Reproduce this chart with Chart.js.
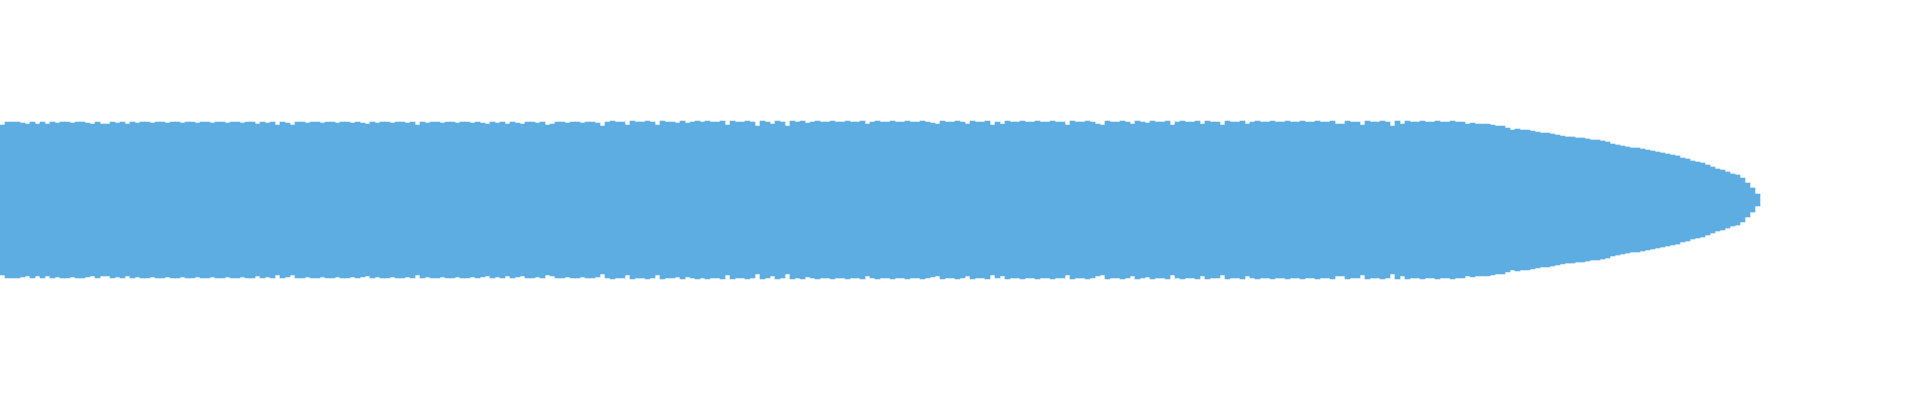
<!DOCTYPE html>
<html>
<head>
<meta charset="utf-8">
<script src="https://cdn.jsdelivr.net/npm/chart.js@4/dist/chart.umd.min.js"></script>
<style>
  html, body { margin: 0; padding: 0; background: #ffffff; }
  #wrap { position: relative; width: 1920px; height: 400px; }
</style>
</head>
<body>
<div id="wrap"><canvas id="wave"></canvas></div>
<script>
// waveform peaks in 5px columns (half-height around the middle line)
const SLOT_COUNT = 384;
const AMPLITUDE = [
  75, 78, 78, 78, 77, 76, 78, 76, 78, 76, 78, 77, 78, 78, 77, 78, 78, 77, 76, 78,
  76, 76, 78, 77, 78, 76, 78, 77, 78, 78, 77, 78, 78, 77, 78, 78, 77, 78, 78, 77,
  78, 78, 77, 78, 78, 77, 78, 78, 77, 78, 78, 76, 78, 77, 78, 75, 78, 77, 75, 78,
  78, 77, 78, 78, 77, 78, 78, 77, 78, 78, 77, 78, 77, 76, 78, 77, 78, 78, 77, 78,
  78, 77, 78, 75, 78, 77, 78, 78, 77, 78, 78, 77, 78, 78, 77, 78, 77, 76, 78, 77,
  78, 76, 78, 77, 76, 78, 78, 77, 78, 75, 76, 78, 78, 77, 78, 78, 77, 78, 78, 77,
  74, 78, 79, 78, 78, 75, 79, 78, 78, 79, 78, 75, 79, 78, 78, 77, 79, 77, 78, 79,
  78, 79, 78, 78, 79, 75, 79, 78, 78, 79, 78, 74, 79, 78, 76, 79, 78, 74, 79, 78,
  79, 77, 78, 79, 78, 78, 79, 78, 78, 79, 78, 78, 79, 76, 78, 79, 78, 78, 79, 78,
  78, 79, 78, 78, 79, 78, 77, 76, 79, 78, 78, 79, 78, 76, 79, 78, 78, 79, 75, 78,
  76, 79, 78, 78, 79, 78, 78, 79, 78, 78, 79, 78, 78, 75, 79, 78, 78, 79, 78, 76,
  75, 79, 78, 78, 79, 78, 76, 79, 78, 77, 79, 78, 78, 79, 75, 78, 79, 78, 78, 79,
  76, 79, 78, 78, 75, 79, 78, 78, 79, 76, 78, 79, 78, 78, 79, 78, 78, 79, 78, 78,
  79, 78, 78, 79, 78, 78, 79, 76, 76, 79, 78, 78, 75, 79, 78, 78, 79, 78, 74, 79,
  76, 79, 78, 78, 79, 78, 78, 79, 78, 78, 79, 78, 78, 76, 77, 76, 76, 76, 75, 74,
  74, 72, 70, 71, 70, 70, 69, 68, 67, 67, 66, 65, 64, 63, 63, 62, 62, 61, 60, 60,
  59, 58, 56, 55, 54, 53, 52, 52, 51, 50, 49, 48, 47, 46, 45, 44, 42, 41, 39, 38,
  37, 35, 33, 31, 30, 28, 26, 25, 22, 17, 12, 6
];
const Y_MIN = -200;
const Y_MAX = 200;
const BAR_COLOR = "#5DADE2";

const labels = Array.from({ length: SLOT_COUNT }, (_, i) => i);
const bars = AMPLITUDE.map(a => [-a, a]);

new Chart(document.getElementById("wave"), {
  type: "bar",
  data: {
    labels: labels,
    datasets: [{
      data: bars,
      backgroundColor: BAR_COLOR,
      borderWidth: 0,
      barPercentage: 1,
      categoryPercentage: 1
    }]
  },
  options: {
    responsive: true,
    maintainAspectRatio: false,
    animation: false,
    devicePixelRatio: 1,
    layout: { padding: 0 },
    plugins: {
      legend: { display: false },
      tooltip: { enabled: false }
    },
    scales: {
      x: { display: false, grid: { display: false } },
      y: { display: false, min: Y_MIN, max: Y_MAX, grid: { display: false } }
    }
  }
});
</script>
</body>
</html>
